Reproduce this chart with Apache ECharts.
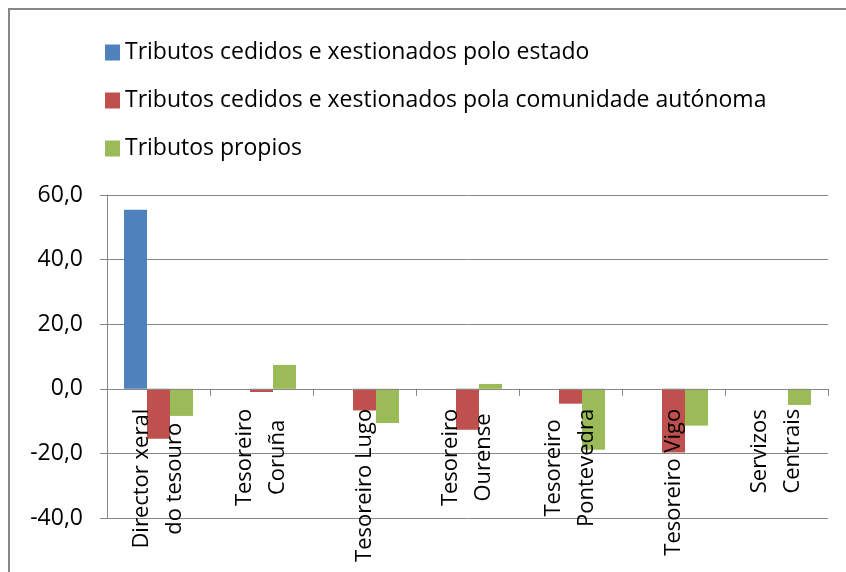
<!DOCTYPE html>
<html>
<head>
<meta charset="utf-8">
<script src="https://cdn.jsdelivr.net/npm/echarts@6/dist/echarts.min.js"></script>
<style>
  html, body { margin: 0; padding: 0; background: #fff; }
  #chart { width: 846px; height: 572px; }
</style>
</head>
<body>
<div id="chart"></div>
<script>
// Categories (collection offices) and the three tax groups, in percent
const categories = [
  'Director xeral\ndo tesouro',
  'Tesoreiro\nCoruña',
  'Tesoreiro Lugo',
  'Tesoreiro\nOurense',
  'Tesoreiro\nPontevedra',
  'Tesoreiro Vigo',
  'Servizos\nCentrais'
];
const seriesNames = [
  'Tributos cedidos e xestionados polo estado',
  'Tributos cedidos e xestionados pola comunidade autónoma',
  'Tributos propios'
];
const estado     = [55.4, 0, 0, 0, 0, 0, 0];
const comunidade = [-15.5, -1.0, -6.7, -12.7, -4.6, -19.7, 0];
const propios    = [-8.4, 7.4, -10.6, 1.5, -18.9, -11.4, -5.0];
const yTicks = { min: -40, max: 60, step: 20 };

const colors = ['#4f81bd', '#c0504d', '#9bbb59'];
const font = '"Open Sans", "Noto Sans", sans-serif';
const gray = '#878787';

const chart = echarts.init(document.getElementById('chart'));

function buildOption(xOffset) {
  return {
    animation: false,
    textStyle: { fontFamily: font },
    graphic: [{
      type: 'rect',
      z: -10,
      shape: { x: 9, y: 9, width: 1000, height: 1000 },
      style: { fill: 'none', stroke: gray, lineWidth: 2 }
    }],
    legend: {
      orient: 'vertical',
      left: 105,
      top: 41,
      padding: 0,
      itemWidth: 15,
      itemHeight: 16,
      itemGap: 25,
      icon: 'rect',
      textStyle: { fontSize: 23, color: '#000', fontFamily: font },
      data: seriesNames
    },
    grid: { left: 107, right: 18, top: 195, bottom: 54, containLabel: false, outerBoundsMode: 'none' },
    xAxis: {
      type: 'category',
      data: categories,
      z: 5,
      position: 'bottom',
      offset: xOffset,
      axisLine: { show: true, onZero: false, lineStyle: { color: gray, width: 1 } },
      axisTick: { show: true, length: 7, alignWithLabel: false, lineStyle: { color: gray } },
      axisLabel: {
        interval: 0,
        rotate: 90,
        margin: 20,
        color: '#000',
        hideOverlap: false,
        formatter: function (v) {
          return v.split('\n').map(function (s) { return '{a|' + s + '}'; }).join('\n');
        },
        rich: {
          a: { align: 'center', fontSize: 22, lineHeight: 33, fontFamily: font, color: '#000' }
        }
      },
      splitLine: { show: false }
    },
    yAxis: {
      type: 'value',
      min: yTicks.min,
      max: yTicks.max,
      interval: yTicks.step,
      axisLine: { show: true, onZero: false, lineStyle: { color: gray, width: 1 } },
      axisTick: { show: true, length: 7, inside: false, lineStyle: { color: gray } },
      axisLabel: {
        margin: 24,
        fontSize: 23,
        color: '#000',
        fontFamily: font,
        formatter: function (v) { return v.toFixed(1).replace('.', ','); }
      },
      splitLine: { show: true, lineStyle: { color: gray, width: 1 } }
    },
    series: [
      { name: seriesNames[0], type: 'bar', z: 2, data: estado, itemStyle: { color: colors[0] }, barGap: '0%', barCategoryGap: '33%' },
      { name: seriesNames[1], type: 'bar', z: 2, data: comunidade, itemStyle: { color: colors[1] }, barGap: '0%', barCategoryGap: '33%' },
      { name: seriesNames[2], type: 'bar', z: 2, data: propios, itemStyle: { color: colors[2] }, barGap: '0%', barCategoryGap: '33%' }
    ]
  };
}

// Draw once, then lift the category axis up to the value-axis zero line
chart.setOption(buildOption(0));
const zeroY = chart.convertToPixel({ yAxisIndex: 0 }, 0);
const bottomY = chart.convertToPixel({ yAxisIndex: 0 }, yTicks.min);
chart.setOption({ xAxis: { offset: zeroY - bottomY } });
</script>
</body>
</html>
